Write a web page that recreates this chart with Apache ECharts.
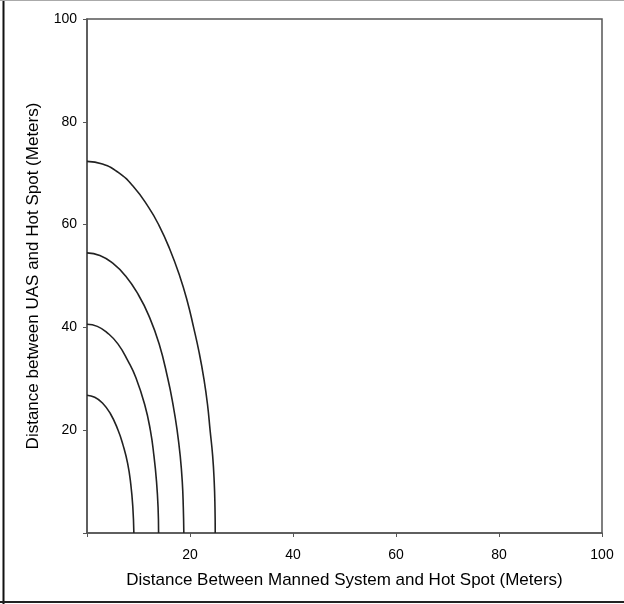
<!DOCTYPE html>
<html>
<head>
<meta charset="utf-8">
<script src="https://cdn.jsdelivr.net/npm/echarts@6/dist/echarts.min.js"></script>
<style>
  html, body { margin: 0; padding: 0; background: #fff; }
  #chart { width: 624px; height: 604px; }
</style>
</head>
<body>
<div id="chart"></div>
<script>
// curves: [x (manned system), y (UAS)] in meters
var curve1 = [[0, 26.8], [1.5, 26.4], [3, 25.3], [4.5, 23.3], [6, 20.1], [7, 17.1], [7.9, 13.5], [8.5, 9.5], [8.9, 5], [9.1, 0]];
var curve2 = [[0, 40.6], [2, 40.2], [4, 38.9], [6, 36.8], [8, 33.4], [9.5, 30.2], [11.2, 25], [12.3, 20], [13, 15], [13.5, 10], [13.8, 5], [13.9, 0]];
var curve3 = [[0, 54.5], [2.5, 54.0], [5, 52.5], [7.5, 50.0], [10, 46.3], [12, 42.3], [14, 36.8], [15.7, 30], [16.7, 25], [17.5, 20], [18.1, 15], [18.5, 10], [18.7, 5], [18.8, 0]];
var curve4 = [[0, 72.3], [3, 71.8], [6, 70.2], [9, 67.4], [12, 63.3], [14, 59.8], [16, 55.4], [18, 50.0], [19.5, 45.0], [20.7, 40], [21.8, 35], [22.7, 30], [23.4, 25], [23.9, 20], [24.4, 15], [24.7, 10], [24.85, 5], [24.9, 0]];
var curves = [curve1, curve2, curve3, curve4];

var xTitle = 'Distance Between Manned System and Hot Spot (Meters)';
var yTitle = 'Distance between UAS and Hot Spot (Meters)';

var chart = echarts.init(document.getElementById('chart'));

var font = 'Liberation Sans, Arial, sans-serif';
var axisCommon = {
    type: 'value',
    min: 0,
    max: 100,
    interval: 20,
    splitLine: { show: false },
    axisLine: { show: true, lineStyle: { color: '#555', width: 1.5 } },
    axisTick: { show: true, inside: false, length: 4, lineStyle: { color: '#555', width: 1 } },
    axisLabel: {
        color: '#000',
        fontSize: 14,
        fontFamily: font,
        formatter: function (v) { return v === 0 ? '' : v; }
    },
    nameLocation: 'middle',
    nameTextStyle: { color: '#000', fontSize: 17, fontFamily: font }
};

chart.setOption({
    backgroundColor: '#fff',
    animation: false,
    grid: {
        left: 87, right: 22, top: 19, bottom: 71,
        show: true,
        borderColor: '#555',
        borderWidth: 1.5,
        containLabel: false
    },
    xAxis: Object.assign({}, axisCommon, {
        name: xTitle,
        nameGap: 39,
        axisLabel: Object.assign({}, axisCommon.axisLabel, { margin: 15 })
    }),
    yAxis: Object.assign({}, axisCommon, {
        name: yTitle,
        nameGap: 45,
        axisLabel: Object.assign({}, axisCommon.axisLabel, { margin: 10 })
    }),
    graphic: [
        { type: 'line', shape: { x1: 3.5, y1: 0, x2: 3.5, y2: 604 }, style: { stroke: '#111', lineWidth: 2 } },
        { type: 'line', shape: { x1: 0, y1: 0.5, x2: 624, y2: 0.5 }, style: { stroke: '#aaa', lineWidth: 1 } },
        { type: 'line', shape: { x1: 0, y1: 602, x2: 624, y2: 602 }, style: { stroke: '#222', lineWidth: 2 } }
    ],
    series: curves.map(function (c) {
        return {
            type: 'line',
            data: c,
            smooth: 0.5,
            showSymbol: false,
            lineStyle: { color: '#222', width: 1.6 }
        };
    })
});
</script>
</body>
</html>
